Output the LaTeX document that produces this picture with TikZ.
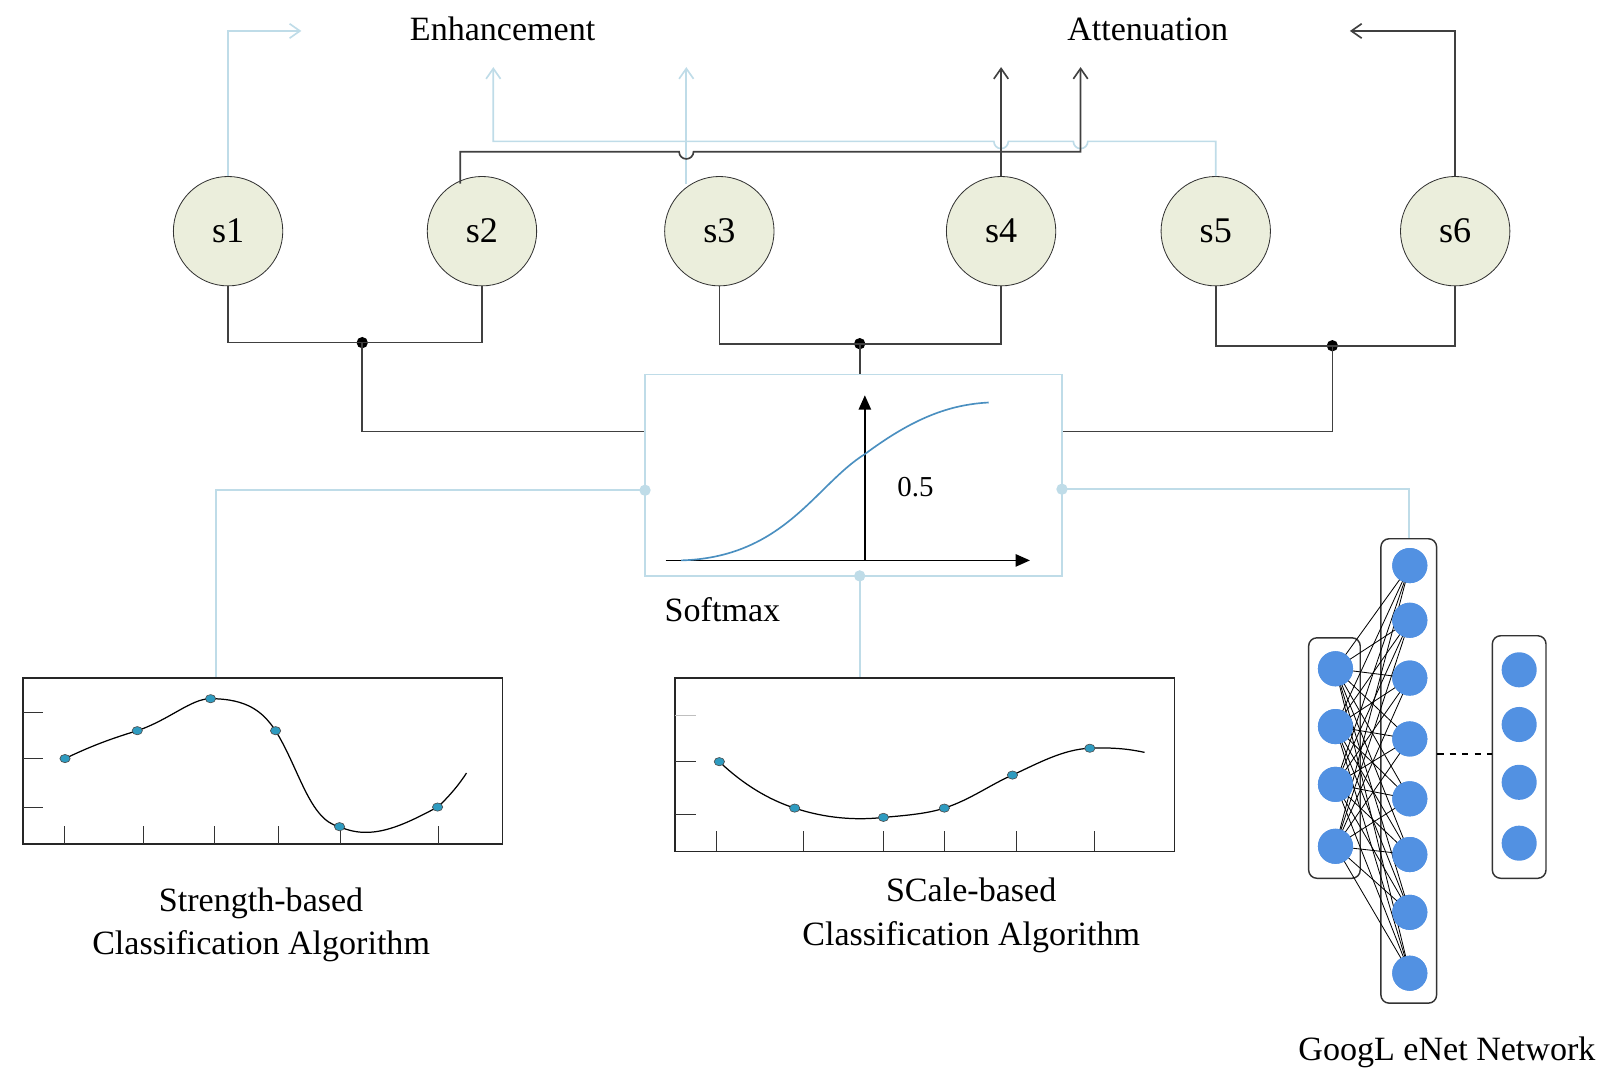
\documentclass[tikz,border=0pt]{standalone}
\usepackage{fontspec}
\setmainfont{Liberation Serif}
\usetikzlibrary{arrows.meta,shapes.geometric}
\definecolor{lb}{HTML}{BFDCE8}
\definecolor{cf}{HTML}{EBEEDC}
\definecolor{nb}{HTML}{5291E2}
\definecolor{sg}{HTML}{4A8FC0}
\definecolor{pt}{HTML}{2E9BC0}
\begin{document}
\begin{tikzpicture}[x=0.5pt,y=-0.5pt,
  st/.style={circle,draw=black!80,fill=cf,minimum size=53pt,inner sep=0pt,font=\fontsize{17.5}{20}\selectfont},
  dk/.style={draw=black!75,line width=0.8pt},
  lt/.style={draw=lb,line width=0.8pt},
  arr/.style={-{Straight Barb[length=5pt,width=7pt]}},
  dot/.style={circle,fill=black,inner sep=0pt,minimum size=5.5pt},
  ldot/.style={circle,fill=lb,inner sep=0pt,minimum size=5.5pt},
  lab/.style={font=\fontsize{16.5}{19}\selectfont,inner sep=0pt},
  nn/.style={circle,fill=nb,inner sep=0pt,minimum size=17pt},
  col/.style={draw=black!80,rounded corners=4pt,line width=0.7pt},
  pd/.style={ellipse,fill=pt,draw=black!70,line width=0.3pt,inner sep=0pt,minimum width=5pt,minimum height=4pt}]
\useasboundingbox (0,0) rectangle (1560,1050);
% circles
\foreach \n/\x in {1/221,2/467,3/697,4/970,5/1178,6/1410}{\node[st] (s\n) at (\x,224) {s\n};}
% labels
\node[lab] (enh) at (487,28) {Enhancement};
\node[lab] (att) at (1112,28) {Attenuation};
% softmax box
\node[draw=lb,line width=0.8pt,minimum width=202pt,minimum height=97.5pt,inner sep=0pt] (sm) at (827,460.5) {};
\coordinate (yb) at (838,543); \coordinate (yt) at (838,383);
\coordinate (xl) at (645,543); \coordinate (xr) at (998,543);
\draw[black,line width=0.8pt,-{Triangle[length=7pt,width=6pt]}] (yb) -- (yt);
\draw[black,line width=0.8pt,-{Triangle[length=7pt,width=6pt]}] (xl) -- (xr);
\draw[sg,line width=0.8pt] (660,543) .. controls (760,540) and (790,470) .. (838,440) .. controls (885,405) and (920,392) .. (958,390);
\node[lab,font=\fontsize{14}{16}\selectfont] (half) at (887,472) {0.5};
\node[lab] (smlab) at (700,591) {Softmax};
% bottom connectors
\node[dot] (d1) at (351,332) {};
\node[dot] (d2) at (833,333) {};
\node[dot] (d3) at (1291,335) {};
\draw[dk] (s1.south) |- (d1.center) -| (s2.south);
\draw[dk] (d1.center) |- (sm.west |- 0,418);
\draw[dk] (s3.south) |- (d2.center) -| (s4.south);
\draw[dk] (d2.center) -- (d2.center |- sm.north);
\draw[dk] (s5.south) |- (d3.center) -| (s6.south);
\draw[dk] (d3.center) |- (sm.east |- 0,418);
% top connectors
\coordinate (a1) at (292,30);
\draw[lt,arr] (s1.north) |- (a1);
\coordinate (s2t) at (446,178); \coordinate (s3t) at (665,178);
\coordinate (a2) at (478,65); \coordinate (a3) at (665,65);
\coordinate (a4) at (970,65); \coordinate (a5) at (1047,65);
\coordinate (a6) at (1308,30);
\draw[lt,arr] (s5.north) -- (1178,137) -- (1054,137) arc (0:180:7) -- (977,137) arc (0:180:7) -- (478,137) -- (a2);
\draw[lt,arr] (s3t) -- (a3);
\draw[dk,arr] (s2t) -- (446,147) -- (658,147) arc (180:0:7) -- (1047,147) -- (a5);
\draw[dk,arr] (s4.north) -- (a4);
\draw[dk,arr] (s6.north) |- (a6);
% light connectors from softmax
\node[ldot] (l1) at (625,475) {};
\node[ldot] (l2) at (1029,474) {};
\node[ldot] (l3) at (833,558) {};
% chart 1
\node[draw=black!85,line width=0.8pt,minimum width=232.5pt,minimum height=80.5pt,inner sep=0pt] (c1) at (254.5,737.5) {};
\foreach \y in {690,735,782}{\draw[black!80] (22,\y) -- (42,\y);}
\foreach \x in {62,139,208,270,330,425}{\draw[black!80] (\x,818) -- (\x,800);}
\draw[black,line width=0.6pt] (63,735) .. controls (90,722) and (110,715) .. (133,708) .. controls (165,697) and (185,677) .. (204,677) .. controls (240,677) and (255,690) .. (267,708) .. controls (290,745) and (300,795) .. (329,801) .. controls (360,815) and (390,800) .. (424,782) .. controls (435,772) and (445,760) .. (452,749);
\foreach \x/\y in {63/735,133/708,204/677,267/708,329/801,424/782}{\node[pd] at (\x,\y) {};}
\node[lab,align=center] (t1) at (253,896) {Strength-based\\[2pt]Classification Algorithm};
% chart 2
\node[draw=black!85,line width=0.8pt,minimum width=242pt,minimum height=84pt,inner sep=0pt] (c2) at (896,741) {};
\draw[black!25] (654,693) -- (674,693);
\foreach \y in {738,789}{\draw[black!80] (654,\y) -- (674,\y);}
\foreach \x in {694,778,856,915,985,1060}{\draw[black!80] (\x,825) -- (\x,805);}
\draw[black,line width=0.6pt] (697,738) .. controls (720,760) and (745,775) .. (770,783) .. controls (800,793) and (830,795) .. (856,792) .. controls (880,790) and (900,788) .. (915,783) .. controls (940,775) and (960,760) .. (981,751) .. controls (1005,740) and (1030,726) .. (1056,725) .. controls (1080,724) and (1095,726) .. (1109,729);
\foreach \x/\y in {697/738,770/783,856/792,915/783,981/751,1056/725}{\node[pd] at (\x,\y) {};}
\node[lab,align=center] (t2) at (941,887) {SCale-based\\[2pt]Classification Algorithm};
% network
\node[col,minimum width=25pt,minimum height=116.5pt,inner sep=0pt] (b1) at (1293,734.5) {};
\node[col,minimum width=27pt,minimum height=225pt,inner sep=0pt] (b2) at (1365,747) {};
\node[col,minimum width=26pt,minimum height=117.5pt,inner sep=0pt] (b3) at (1472,733.5) {};
\foreach \i/\y in {1/648,2/704,3/760,4/820}{\node[nn] (L\i) at (1294,\y) {};}
\foreach \i/\y in {1/548,2/601,3/657,4/716,5/774,6/828,7/884,8/943}{\node[nn] (M\i) at (1366,\y) {};}
\foreach \i/\y in {1/649,2/702,3/758,4/817}{\node[nn] (R\i) at (1472,\y) {};}
\foreach \i in {1,...,4}{\foreach \j in {1,...,8}{\draw[black,line width=0.4pt] (L\i.center) -- (M\j.center);}}
\foreach \i in {1,...,4}{\node[nn] at (L\i) {};}
\foreach \j in {1,...,8}{\node[nn] at (M\j) {};}
\draw[black,dashed,line width=1pt] (b2.east |- 0,731) -- (b3.west |- 0,731);
\node[lab] (t3) at (1402,1020) {GoogL eNet Network};
\draw[lt] (l1.center) -| (c1.north -| 209,0);
\draw[lt] (l2.center) -| (b2.north);
\draw[lt] (l3.center) -- (l3.center |- c2.north);
\end{tikzpicture}
\end{document}
